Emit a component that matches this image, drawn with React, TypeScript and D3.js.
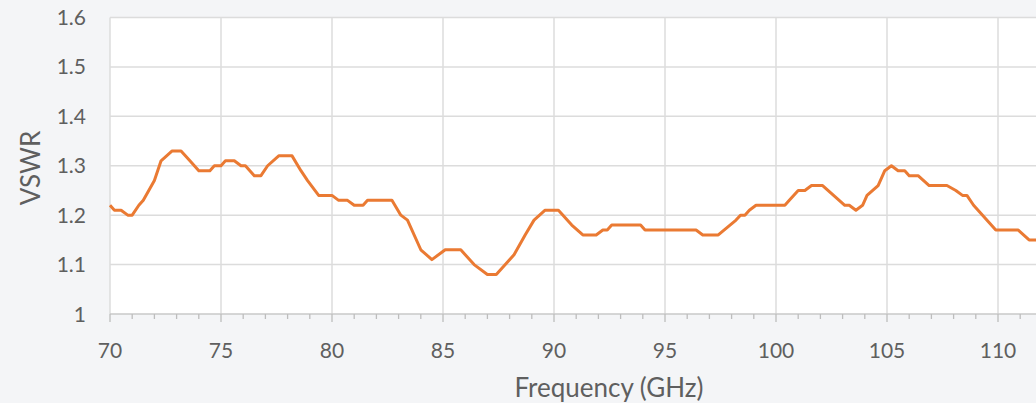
import React, { useEffect, useRef } from 'react';
import * as d3 from 'd3';

// frequency in GHz
const freq = [
  70, 70.2, 70.5, 70.8, 71.0, 71.3, 71.5, 72.0, 72.3, 72.8, 73.2, 73.6, 74.0, 74.5, 74.7, 75.0,
  75.2, 75.6, 75.9, 76.1, 76.5, 76.8, 77.1, 77.6, 78.2, 78.6, 78.9, 79.4, 80.0, 80.3, 80.7, 81.0,
  81.4, 81.6, 82.7, 83.1, 83.4, 84.0, 84.5, 85.1, 85.8, 86.4, 87.0, 87.4, 88.2, 88.7, 89.1, 89.6,
  90.2, 90.8, 91.3, 91.9, 92.2, 92.4, 92.6, 93.9, 94.1, 96.4, 96.7, 97.4, 98.2, 98.4, 98.6, 98.8,
  99.1, 100.4, 100.6, 101.0, 101.3, 101.6, 102.1, 103.1, 103.3, 103.6, 103.9, 104.1, 104.6, 104.9,
  105.2, 105.5, 105.8, 106.0, 106.4, 106.9, 107.7, 108.1, 108.4, 108.6, 108.9, 109.9, 110.9, 111.4,
  111.8, 112.3,
];

const vswr = [
  1.22, 1.21, 1.21, 1.2, 1.2, 1.22, 1.23, 1.27, 1.31, 1.33, 1.33, 1.31, 1.29, 1.29, 1.3, 1.3,
  1.31, 1.31, 1.3, 1.3, 1.28, 1.28, 1.3, 1.32, 1.32, 1.29, 1.27, 1.24, 1.24, 1.23, 1.23, 1.22,
  1.22, 1.23, 1.23, 1.2, 1.19, 1.13, 1.11, 1.13, 1.13, 1.1, 1.08, 1.08, 1.12, 1.16, 1.19, 1.21,
  1.21, 1.18, 1.16, 1.16, 1.17, 1.17, 1.18, 1.18, 1.17, 1.17, 1.16, 1.16, 1.19, 1.2, 1.2, 1.21,
  1.22, 1.22, 1.23, 1.25, 1.25, 1.26, 1.26, 1.22, 1.22, 1.21, 1.22, 1.24, 1.26, 1.29,
  1.3, 1.29, 1.29, 1.28, 1.28, 1.26, 1.26, 1.25, 1.24, 1.24, 1.22, 1.17, 1.17, 1.15,
  1.15, 1.14,
];

const xTicks = [70, 75, 80, 85, 90, 95, 100, 105, 110];
const yTicks = [1, 1.1, 1.2, 1.3, 1.4, 1.5, 1.6];

const App = () => {
  const svgRef = useRef<SVGSVGElement>(null);

  useEffect(() => {
    d3.select(svgRef.current).selectAll('*').remove();

    const width = 1036;
    const height = 403;
    const font = 'Lato, "Open Sans", sans-serif';
    const textColor = '#5f5f5f';

    const svg = d3.select(svgRef.current).attr('width', width).attr('height', height);

    // full chart runs 70-115 GHz, the picture is cut just past 111
    const x = d3.scaleLinear().domain([70, 115]).range([110, 110 + 45 * 22.2]);
    const y = d3.scaleLinear().domain([1, 1.6]).range([314, 17.5]);

    // background
    svg.append('rect').attr('width', width).attr('height', height).attr('fill', '#f4f5f7');
    svg.append('rect')
      .attr('x', x(70)).attr('y', y(1.6))
      .attr('width', width - x(70)).attr('height', y(1) - y(1.6))
      .attr('fill', '#ffffff');

    // horizontal grid
    svg.append('g')
      .selectAll('line')
      .data(yTicks.slice(1))
      .enter()
      .append('line')
      .attr('x1', x(70)).attr('x2', width)
      .attr('y1', (d) => y(d)).attr('y2', (d) => y(d))
      .attr('stroke', '#dcdcdc').attr('stroke-width', 1.5);

    // vertical grid
    svg.append('g')
      .selectAll('line')
      .data(xTicks)
      .enter()
      .append('line')
      .attr('x1', (d) => x(d)).attr('x2', (d) => x(d))
      .attr('y1', y(1.6)).attr('y2', y(1))
      .attr('stroke', '#dcdcdc').attr('stroke-width', 1.5);

    // bottom axis with minor ticks every 1 GHz
    const axisG = svg.append('g').attr('transform', `translate(0,${y(1)})`);
    axisG.append('line').attr('x1', x(70)).attr('x2', width).attr('stroke', '#c8c8c8').attr('stroke-width', 1.5);
    axisG.selectAll('line.minor')
      .data(d3.range(70, 116, 1))
      .enter()
      .append('line')
      .attr('class', 'minor')
      .attr('x1', (d) => x(d)).attr('x2', (d) => x(d))
      .attr('y1', 0).attr('y2', (d) => (d % 5 === 0 ? 8 : 5))
      .attr('stroke', '#bdbdbd').attr('stroke-width', 1.3);

    // x tick labels
    svg.append('g')
      .selectAll('text')
      .data(xTicks)
      .enter()
      .append('text')
      .attr('x', (d) => x(d))
      .attr('y', 358)
      .attr('text-anchor', 'middle')
      .style('font-family', font).style('font-size', '21px').attr('fill', textColor)
      .text((d) => d);

    // y tick labels
    svg.append('g')
      .selectAll('text')
      .data(yTicks)
      .enter()
      .append('text')
      .attr('x', 86)
      .attr('y', (d) => y(d) + 7.5)
      .attr('text-anchor', 'end')
      .style('font-family', font).style('font-size', '21px').attr('fill', textColor)
      .text((d) => (d === 1 ? '1' : d.toFixed(1)));

    // axis titles
    svg.append('text')
      .attr('transform', `translate(40,${168}) rotate(-90)`)
      .attr('text-anchor', 'middle')
      .style('font-family', font).style('font-size', '26px').attr('fill', textColor)
      .text('VSWR');

    svg.append('text')
      .attr('x', 609).attr('y', 397)
      .attr('text-anchor', 'middle')
      .style('font-family', font).style('font-size', '26px').attr('fill', textColor)
      .text('Frequency (GHz)');

    // data line
    const points = freq.map((f, i) => [f, vswr[i]] as [number, number]);
    const line = d3.line<[number, number]>()
      .x((d) => x(d[0]))
      .y((d) => y(d[1]));

    svg.append('path')
      .datum(points)
      .attr('d', line)
      .attr('fill', 'none')
      .attr('stroke', '#ea7a33')
      .attr('stroke-width', 3)
      .attr('stroke-linejoin', 'round');
  }, []);

  return (
    <div style={{ position: 'absolute', left: 0, top: 0 }}>
      <svg ref={svgRef} style={{ display: 'block' }}></svg>
    </div>
  );
};

export default App;
